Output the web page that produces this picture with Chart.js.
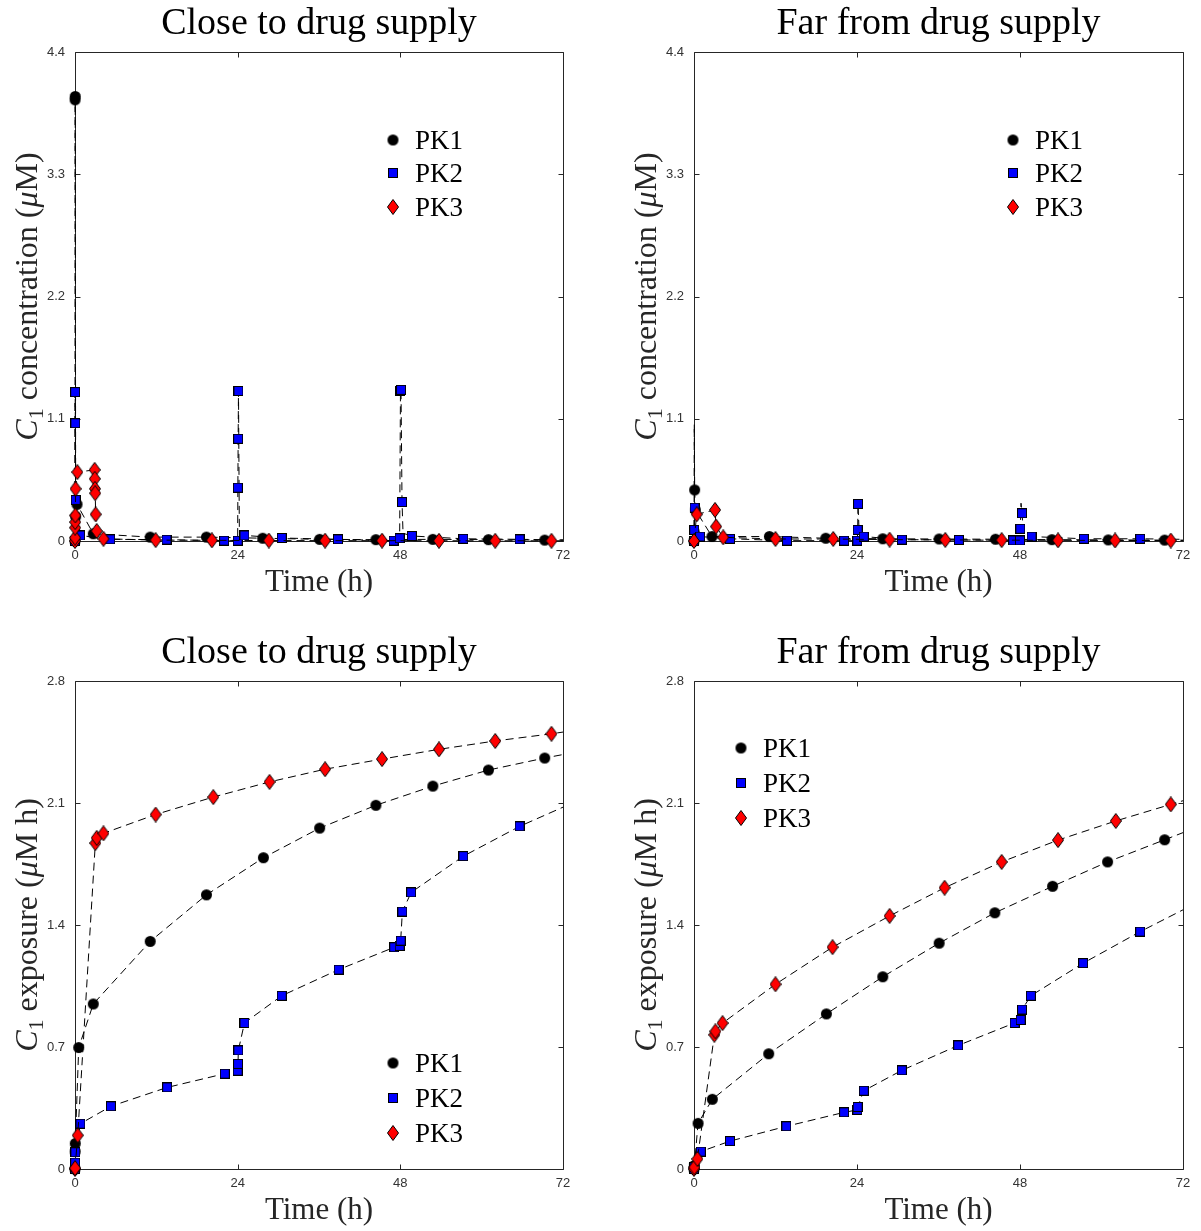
<!DOCTYPE html>
<html>
<head>
<meta charset="utf-8">
<title>C1 concentration and exposure</title>
<script src="https://cdn.jsdelivr.net/npm/chart.js@4.4.0/dist/chart.umd.min.js"></script>
<style>
  body { margin: 0; background: #fff; }
  #wrap { position: relative; width: 1201px; height: 1231px; }
  canvas { position: absolute; }
</style>
</head>
<body>
<div id="wrap">
  <canvas id="tl" width="600" height="615" style="left:0;top:0"></canvas>
  <canvas id="tr" width="601" height="615" style="left:600px;top:0"></canvas>
  <canvas id="bl" width="600" height="616" style="left:0;top:615px"></canvas>
  <canvas id="br" width="601" height="616" style="left:600px;top:615px"></canvas>
</div>
<script>
// axis ticks and names
var timeTicks = [0, 24, 48, 72];
var concTicks = [0, 1.1, 2.2, 3.3, 4.4];
var expoTicks = [0, 0.7, 1.4, 2.1, 2.8];
var seriesNames = ['PK1', 'PK2', 'PK3'];

// [time h, value]; *Extra = points of the dashed line with no marker
// close to drug supply, concentration
var ccPK1 = [[0,0],[0.01,3.97],[0.03,4.0],[0.1,0.22],[0.3,0.33],[2.7,0.065],[11.1,0.035],[19.4,0.035],[27.7,0.025],[36.1,0.015],[44.4,0.012],[52.8,0.015],[61,0.012],[69.3,0.008]];
var ccPK1Extra = [[72,0.008]];
var ccPK2 = [[0,0],[0.02,1.34],[0.05,1.06],[0.1,0.37],[0.75,0.05],[5.2,0.015],[13.5,0.012],[22,0.003],[24,0.003],[24.03,0.48],[24.07,0.92],[24.12,1.35],[25,0.05],[30.5,0.027],[38.8,0.015],[47,0.003],[47.9,0.025],[48.02,1.35],[48.1,1.36],[48.25,0.35],[49.7,0.045],[57.3,0.02],[65.6,0.015]];
var ccPK2Extra = [[24.25,0.08],[48.4,0.07],[72,0.01]];
var ccPK3 = [[0,0],[0.01,0.03],[0.02,0.12],[0.03,0.17],[0.05,0.23],[0.08,0.47],[0.35,0.62],[2.9,0.64],[2.92,0.56],[2.95,0.47],[2.98,0.43],[3.05,0.24],[3.2,0.09],[4.2,0.02],[11.9,0.008],[20.2,0.006],[28.6,0.004],[36.9,0.003],[45.3,0.003],[53.7,0.002],[62,0.002],[70.3,0.002]];
var ccPK3Extra = [[72,0.002]];

// far from drug supply, concentration
var fcPK1 = [[0,0],[0.1,0.46],[0.2,0.28],[2.65,0.04],[11.1,0.04],[19.4,0.025],[27.8,0.02],[36.1,0.018],[44.4,0.016],[52.7,0.012],[61,0.01],[69.3,0.008]];
var fcPK1Extra = [[0.04,1.05],[72,0.008]];
var fcPK2 = [[0,0],[0.03,0.1],[0.08,0.3],[0.9,0.04],[5.3,0.02],[13.7,0.003],[22.1,0.003],[24.05,0.003],[24.1,0.1],[24.15,0.334],[25,0.04],[30.6,0.012],[39,0.01],[47,0.005],[48,0.005],[48.05,0.11],[48.3,0.25],[49.7,0.04],[57.4,0.02],[65.7,0.02]];
var fcPK2Extra = [[24.3,0.1],[48.15,0.34],[48.5,0.08],[72,0.015]];
var fcPK3 = [[0,0],[0.4,0.24],[3.1,0.28],[3.25,0.13],[4.3,0.033],[12,0.018],[20.5,0.018],[28.8,0.012],[37,0.01],[45.3,0.008],[53.6,0.006],[62,0.005],[70.2,0.004]];
var fcPK3Extra = [[72,0.004]];

// close to drug supply, exposure
var cePK1 = [[0,0],[0.02,0.1],[0.04,0.146],[0.55,0.697],[2.7,0.947],[11.1,1.306],[19.4,1.573],[27.8,1.786],[36.1,1.956],[44.4,2.087],[52.8,2.197],[61,2.289],[69.3,2.358]];
var cePK1Extra = [[72,2.378]];
var cePK2 = [[0,0],[0.01,0.01],[0.02,0.037],[0.05,0.096],[0.8,0.26],[5.3,0.36],[13.6,0.468],[22.1,0.547],[24,0.564],[24.05,0.603],[24.1,0.68],[25,0.838],[30.5,0.994],[38.9,1.144],[47.1,1.272],[47.9,1.28],[48.05,1.31],[48.3,1.477],[49.6,1.587],[57.3,1.795],[65.6,1.966]];
var cePK2Extra = [[72,2.076]];
var cePK3 = [[0,0],[0.01,0.005],[0.4,0.193],[3.0,1.87],[3.2,1.9],[4.2,1.926],[11.9,2.034],[20.4,2.134],[28.7,2.221],[36.9,2.294],[45.3,2.352],[53.7,2.408],[62,2.456],[70.3,2.497]];
var cePK3Extra = [[72,2.507]];

// far from drug supply, exposure
var fePK1 = [[0,0],[0.05,0.02],[0.6,0.262],[2.7,0.4],[11,0.661],[19.5,0.89],[27.8,1.103],[36.1,1.296],[44.3,1.47],[52.8,1.622],[60.9,1.762],[69.3,1.889]];
var fePK1Extra = [[72,1.93]];
var fePK2 = [[0,0],[0.02,0.01],[1.0,0.1],[5.3,0.16],[13.6,0.245],[22.1,0.325],[24.05,0.339],[24.1,0.356],[25,0.449],[30.6,0.566],[38.9,0.709],[47.2,0.838],[48.1,0.855],[48.3,0.915],[49.6,0.994],[57.3,1.181],[65.7,1.362]];
var fePK2Extra = [[72,1.487]];
var fePK3 = [[0,0],[0.05,0.01],[0.5,0.058],[3.0,0.77],[3.15,0.79],[4.2,0.837],[12,1.06],[20.4,1.273],[28.8,1.452],[36.9,1.614],[45.3,1.762],[53.6,1.887],[62.1,1.997],[70.2,2.092]];
var fePK3Extra = [[72,2.113]];

var SERIF = "'Liberation Serif', 'Times New Roman', serif";
var SANS = "'Liberation Sans', Arial, sans-serif";

// matlab-like markers drawn once, used as point styles
function markerCanvas(w, h, draw) {
  var c = document.createElement('canvas');
  c.width = w; c.height = h;
  draw(c.getContext('2d'));
  return c;
}
var dot = markerCanvas(13, 13, function (g) {
  g.fillStyle = '#000';
  g.beginPath(); g.arc(6.5, 6.5, 5.5, 0, 2 * Math.PI); g.fill();
});
var square = markerCanvas(10, 10, function (g) {
  g.fillStyle = '#0000ff'; g.fillRect(0, 0, 10, 10);
  g.strokeStyle = '#000'; g.lineWidth = 1; g.strokeRect(0.5, 0.5, 9, 9);
});
var diamond = markerCanvas(12, 16, function (g) {
  g.beginPath();
  g.moveTo(6, 0.5); g.lineTo(11.5, 8); g.lineTo(6, 15.5); g.lineTo(0.5, 8); g.closePath();
  g.fillStyle = '#ff0000'; g.fill();
  g.strokeStyle = '#000'; g.lineWidth = 1; g.stroke();
});
var markers = [dot, square, diamond];

// title, axis labels, box with inward ticks, legend
function makeDecor(deco) {
  return {
    id: 'decor',
    beforeDatasetsDraw: function (chart) {
      var ctx = chart.ctx, a = chart.chartArea, sx = chart.scales.x, sy = chart.scales.y;
      var L = Math.round(a.left) + 0.5, R = Math.round(a.right) + 0.5;
      var T = Math.round(a.top) + 0.5, B = Math.round(a.bottom) + 0.5;
      ctx.save();
      ctx.strokeStyle = '#262626';
      ctx.lineWidth = 1;
      ctx.beginPath();
      ctx.rect(L, T, R - L, B - T);
      sx.ticks.forEach(function (t) {
        var px = Math.round(sx.getPixelForValue(t.value)) + 0.5;
        ctx.moveTo(px, B); ctx.lineTo(px, B - 5);
        ctx.moveTo(px, T); ctx.lineTo(px, T + 5);
      });
      sy.ticks.forEach(function (t) {
        var py = Math.round(sy.getPixelForValue(t.value)) + 0.5;
        ctx.moveTo(L, py); ctx.lineTo(L + 5, py);
        ctx.moveTo(R, py); ctx.lineTo(R - 5, py);
      });
      ctx.stroke();
      ctx.restore();
    },
    afterDraw: function (chart) {
      var ctx = chart.ctx, a = chart.chartArea;
      var cx = (a.left + a.right) / 2;
      ctx.save();
      ctx.textBaseline = 'alphabetic';
      ctx.textAlign = 'center';
      ctx.fillStyle = '#000';
      ctx.font = '38px ' + SERIF;
      ctx.fillText(deco.title, cx, a.top - 18);

      ctx.fillStyle = '#262626';
      ctx.font = '31px ' + SERIF;
      ctx.fillText('Time (h)', cx, a.bottom + 50);

      // y label: italic C, subscript 1, italic mu
      var size = 32;
      var fonts = {
        n: size + 'px ' + SERIF,
        i: 'italic ' + size + 'px ' + SERIF,
        s: Math.round(size * 0.7) + 'px ' + SERIF
      };
      var total = 0;
      deco.yLabel.forEach(function (p) { ctx.font = fonts[p[1]]; total += ctx.measureText(p[0]).width; });
      ctx.translate(a.left - 47, (a.top + a.bottom) / 2);
      ctx.rotate(-Math.PI / 2);
      ctx.textAlign = 'left';
      var x = -total / 2;
      deco.yLabel.forEach(function (p) {
        ctx.font = fonts[p[1]];
        ctx.fillText(p[0], x, p[1] === 's' ? 9 + 6 : 9);
        x += ctx.measureText(p[0]).width;
      });
      ctx.setTransform(1, 0, 0, 1, 0, 0);

      // legend
      ctx.textAlign = 'left';
      ctx.fillStyle = '#000';
      ctx.font = '27px ' + SERIF;
      deco.rows.forEach(function (ry, i) {
        var m = markers[i];
        ctx.drawImage(m, deco.mx - m.width / 2, ry - m.height / 2);
        ctx.fillText(seriesNames[i], deco.tx, ry + 9);
      });
      ctx.restore();
    }
  };
}

function buildPanel(id, area, yTicks, series, deco) {
  var cv = document.getElementById(id);
  var W = cv.width, H = cv.height;
  var datasets = series.map(function (s, i) {
    var pts = s[0].map(function (p) { return { x: p[0], y: p[1], m: true }; })
      .concat(s[1].map(function (p) { return { x: p[0], y: p[1], m: false }; }))
      .sort(function (a, b) { return a.x - b.x; });
    return {
      label: seriesNames[i],
      data: pts,
      order: 3 - i,
      clip: false,
      borderColor: '#000',
      borderWidth: 1,
      borderDash: [8, 5],
      tension: 0,
      fill: false,
      pointStyle: markers[i],
      pointRadius: function (c) { return c.raw && c.raw.m ? 6 : 0; },
      pointHoverRadius: 0
    };
  });
  return new Chart(cv, {
    type: 'line',
    data: { datasets: datasets },
    options: {
      responsive: false,
      animation: false,
      events: [],
      layout: { padding: { left: 0, top: area.top, right: W - area.right, bottom: H - area.bottom - 30 } },
      plugins: { legend: { display: false }, tooltip: { enabled: false } },
      scales: {
        x: {
          type: 'linear', min: 0, max: 72,
          afterBuildTicks: function (s) { s.ticks = timeTicks.map(function (v) { return { value: v }; }); },
          afterFit: function (s) { s.height = 30; s.paddingLeft = 0; s.paddingRight = 0; },
          grid: { display: false, drawTicks: false },
          border: { display: false },
          ticks: { font: { family: SANS, size: 13 }, color: '#333', padding: 7, maxRotation: 0, autoSkip: false }
        },
        y: {
          type: 'linear', min: 0, max: yTicks[yTicks.length - 1],
          afterBuildTicks: function (s) { s.ticks = yTicks.map(function (v) { return { value: v }; }); },
          afterFit: function (s) { s.width = area.left; s.paddingTop = 0; s.paddingBottom = 0; },
          grid: { display: false, drawTicks: false },
          border: { display: false },
          ticks: {
            font: { family: SANS, size: 13 }, color: '#333', padding: 10, autoSkip: false,
            callback: function (v) { return String(v); }
          }
        }
      }
    },
    plugins: [makeDecor(deco)]
  });
}

var concLabel = [['C', 'i'], ['1', 's'], [' concentration (', 'n'], ['\u03bc', 'i'], ['M)', 'n']];
var expoLabel = [['C', 'i'], ['1', 's'], [' exposure (', 'n'], ['\u03bc', 'i'], ['M h)', 'n']];

buildPanel('tl', { left: 75, right: 563, top: 52, bottom: 541 }, concTicks,
  [[ccPK1, ccPK1Extra], [ccPK2, ccPK2Extra], [ccPK3, ccPK3Extra]],
  { title: 'Close to drug supply', yLabel: concLabel, mx: 393, tx: 415, rows: [140, 173, 207] });

buildPanel('tr', { left: 94, right: 583, top: 52, bottom: 541 }, concTicks,
  [[fcPK1, fcPK1Extra], [fcPK2, fcPK2Extra], [fcPK3, fcPK3Extra]],
  { title: 'Far from drug supply', yLabel: concLabel, mx: 413, tx: 435, rows: [140, 173, 207] });

buildPanel('bl', { left: 75, right: 563, top: 66, bottom: 554 }, expoTicks,
  [[cePK1, cePK1Extra], [cePK2, cePK2Extra], [cePK3, cePK3Extra]],
  { title: 'Close to drug supply', yLabel: expoLabel, mx: 393, tx: 415, rows: [448, 483, 518] });

buildPanel('br', { left: 94, right: 583, top: 66, bottom: 554 }, expoTicks,
  [[fePK1, fePK1Extra], [fePK2, fePK2Extra], [fePK3, fePK3Extra]],
  { title: 'Far from drug supply', yLabel: expoLabel, mx: 141, tx: 163, rows: [133, 168, 203] });
</script>
</body>
</html>
